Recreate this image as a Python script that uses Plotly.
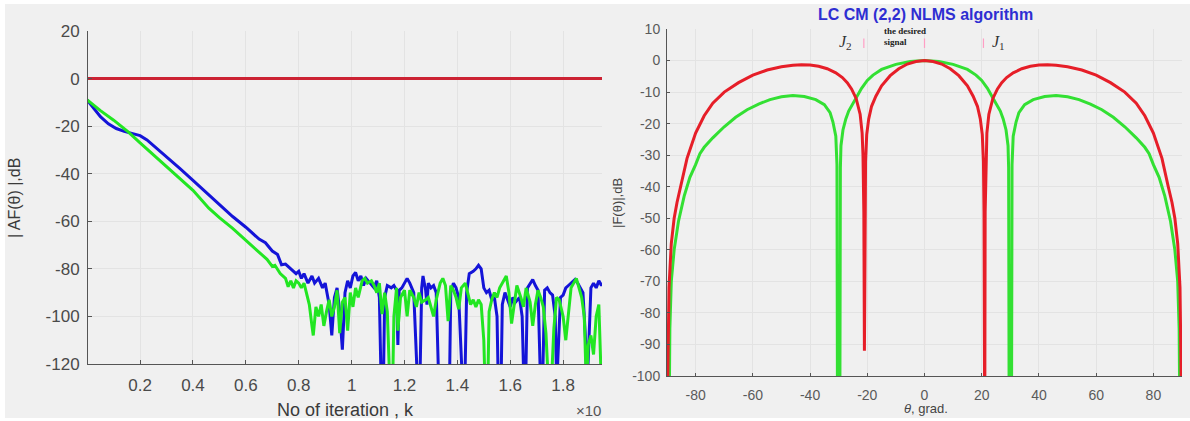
import plotly.graph_objects as go

# ---------------- Left panel data (convergence, x in units of 10^4 iterations) ----------------
red_k = [0.0, 1.95]
red_db = [0.0, 0.0]

blue_k = [0.0, 0.02, 0.05, 0.08, 0.11, 0.14, 0.17, 0.2, 0.226, 0.26, 0.3, 0.35, 0.4, 0.45, 0.5,
          0.525, 0.55, 0.6, 0.65, 0.674, 0.7, 0.72, 0.735, 0.75, 0.77, 0.79,
          0.80, 0.81, 0.82, 0.835, 0.85, 0.86, 0.875, 0.89, 0.90, 0.915, 0.925, 0.935, 0.945, 0.955,
          0.965, 0.975, 0.985, 0.995, 1.005, 1.015, 1.025, 1.035, 1.045, 1.055, 1.07, 1.085, 1.095,
          1.105, 1.112, 1.12, 1.125, 1.135, 1.15, 1.16, 1.17, 1.175, 1.18, 1.19, 1.2, 1.21, 1.22,
          1.235, 1.25, 1.258, 1.265, 1.27, 1.28, 1.285, 1.29, 1.30, 1.31, 1.32, 1.33, 1.34, 1.35,
          1.36, 1.37, 1.375, 1.385, 1.395, 1.405, 1.42, 1.428, 1.435, 1.445, 1.46, 1.47, 1.48, 1.49,
          1.50, 1.51, 1.52, 1.53, 1.54, 1.55, 1.555, 1.565, 1.57, 1.58, 1.59, 1.60, 1.61, 1.62, 1.635,
          1.645, 1.652, 1.658, 1.665, 1.675, 1.685, 1.695, 1.705, 1.715, 1.722, 1.73, 1.74, 1.75,
          1.76, 1.77, 1.776, 1.78, 1.79, 1.80, 1.81, 1.82, 1.83, 1.845, 1.855, 1.865, 1.875, 1.885,
          1.89, 1.895, 1.905, 1.915, 1.925, 1.935, 1.945, 1.95]
blue_db = [-9, -12, -16, -19, -21, -22.2, -23, -24, -25.8, -29, -33, -37.8, -42.8, -47.9, -53,
           -55.2, -58, -62.5, -67.5, -69, -72.5, -74, -78.3, -78, -80, -82,
           -81, -84, -82, -86, -83, -86, -84, -88, -86, -95, -108, -92, -88, -98,
           -114, -90, -85, -88, -83, -81.5, -85, -83, -87, -84, -86, -88, -85,
           -92, -130, -130, -92, -87, -88, -87, -89, -112, -89, -88, -86, -84, -86,
           -90, -130, -130, -88, -83, -89, -95, -86, -88, -87, -90, -130, -130, -130,
           -130, -130, -90, -86, -88, -92, -130, -130, -90, -82, -81, -80, -78.5, -80,
           -88, -90, -89, -93, -92, -100, -130, -130, -95, -90, -93, -96, -92, -94, -92,
           -100, -130, -130, -88, -86, -84.5, -87, -89, -130, -130, -89, -88, -90,
           -91, -100, -130, -118, -92, -91, -88, -87, -86, -84.5, -86, -88, -90, -110,
           -130, -118, -88, -86, -88, -85, -87, -86]

green_k = [0.0, 0.05, 0.1, 0.155, 0.2, 0.3, 0.4, 0.46, 0.5, 0.55, 0.6, 0.65, 0.68, 0.7, 0.71,
           0.73, 0.75, 0.76, 0.77, 0.78, 0.79,
           0.80, 0.81, 0.82, 0.83, 0.84, 0.85, 0.855, 0.865, 0.875, 0.885, 0.895, 0.905, 0.915,
           0.925, 0.935, 0.945, 0.955, 0.965, 0.975, 0.985, 0.995, 1.005, 1.015, 1.025, 1.04, 1.05,
           1.06, 1.075, 1.085, 1.095, 1.105, 1.115, 1.125, 1.135, 1.145, 1.155, 1.16, 1.17, 1.175,
           1.185, 1.2, 1.21, 1.22, 1.235, 1.245, 1.255, 1.265, 1.28, 1.29, 1.30, 1.31, 1.32, 1.335,
           1.345, 1.355, 1.365, 1.375, 1.385, 1.395, 1.405, 1.415, 1.43, 1.44, 1.45, 1.46, 1.47,
           1.48, 1.49, 1.50, 1.505, 1.515, 1.52, 1.53, 1.54, 1.55, 1.56, 1.575, 1.585, 1.595, 1.605,
           1.615, 1.625, 1.64, 1.65, 1.66, 1.675, 1.685, 1.695, 1.705, 1.715, 1.725, 1.735, 1.745,
           1.755, 1.765, 1.775, 1.785, 1.795, 1.80, 1.81, 1.82, 1.83, 1.84, 1.85, 1.86, 1.87, 1.88,
           1.888, 1.895, 1.905, 1.915, 1.925, 1.935, 1.945, 1.95]
green_db = [-9, -13.5, -17.5, -22.4, -27, -37, -47, -54.5, -58.5, -63, -68, -73, -76, -79, -78.5,
            -82, -84, -87.5, -85, -88, -85,
            -86, -88, -86, -90, -95, -104, -108, -96, -100, -95, -104, -98, -93,
            -100, -96, -89, -107, -94, -92, -106, -90, -96, -88, -92, -85, -84,
            -86, -85, -87, -90, -86, -99, -90, -98, -130, -130, -100, -88, -106,
            -92, -89, -100, -89, -92, -96, -90, -94, -93, -92, -96, -100, -93, -86,
            -84, -87, -102, -87, -89, -92, -97, -88, -86, -90, -95, -93, -96,
            -93, -95, -110, -130, -130, -98, -93, -90, -92, -88, -85, -83, -90, -103,
            -95, -87, -92, -96, -88, -94, -104, -95, -89, -92, -96, -107, -130,
            -130, -105, -92, -93, -97, -100, -110, -98, -88, -86, -84, -88, -92, -100,
            -130, -112, -108, -116, -100, -95, -130, -130]

left_xticks = [0.2, 0.4, 0.6, 0.8, 1.0, 1.2, 1.4, 1.6, 1.8]
left_xticktext = ["0.2", "0.4", "0.6", "0.8", "1", "1.2", "1.4", "1.6", "1.8"]
left_yticks = [20, 0, -20, -40, -60, -80, -100, -120]
left_yticktext = ["20", "0", "-20", "-40", "-60", "-80", "-100", "-120"]

# ---------------- Right panel data (array pattern vs angle) ----------------
red_theta = [-90, -89.7, -89.3, -88.5, -87.5, -86.5, -85.2, -83, -80, -77, -74, -70, -65, -60, -55,
             -50, -46, -43, -40, -37, -34, -31, -28.7, -27, -25.5, -23.9, -22.5, -21.8, -21.5,
             -21.2, -21.0, -20.8, -20.6, -20.2, -19.5, -18.5, -17, -15, -12, -9, -6, -3, 0,
             3, 6, 9, 12, 15, 17, 18.5, 19.5, 20.2, 20.6, 20.8, 20.95, 21.05, 21.2, 21.5, 21.8,
             22.5, 23.9, 25.5, 27, 28.7, 31, 34, 37, 40, 43, 46, 50, 55, 60, 65, 70, 74, 77, 80,
             83, 85.2, 86.5, 87.5, 88.5, 89.3, 89.7, 90]
red_pattern = [-120, -88, -72, -58, -50, -45, -40, -31, -23, -17.5, -13.5, -10, -7, -4.6, -3.0,
               -2.0, -1.5, -1.3, -1.4, -1.8, -2.6, -3.9, -5.4, -7, -9, -12, -17, -23, -30,
               -48, -92, -48, -32, -23.5, -18.5, -14.5, -11.3, -8, -4.8, -2.6, -1.1, -0.3, 0,
               -0.3, -1.1, -2.6, -4.8, -8, -11.3, -14.5, -18.5, -23.5, -32, -48, -120, -120, -48, -30, -23,
               -17, -12, -9, -7, -5.4, -3.9, -2.6, -1.8, -1.4, -1.3, -1.5, -2.0, -3.0, -4.6, -7, -10, -13.5, -17.5, -23,
               -31, -40, -45, -50, -58, -72, -88, -120]

green_theta = [-90, -89.3, -89, -88.5, -87.5, -86, -84, -82, -80, -78.5, -77, -74, -70, -66, -62,
               -58, -54, -50, -46, -42, -38, -35, -33, -32, -31, -30.6, -30.4, -29.6, -29.4, -29.2,
               -28.5, -27.5, -26.5, -25, -23.6, -22, -20, -18, -15, -10, -5, 0, 5, 10, 15, 18, 20,
               22, 23.6, 25, 26.5, 27.5, 28.5, 29.2, 29.4, 29.6, 30.4, 30.6, 31, 32, 33, 35, 38, 42,
               46, 50, 54, 58, 62, 66, 70, 74, 77, 78.5, 80, 82, 84, 86, 87.5, 88.5, 89, 89.3, 90]
green_pattern = [-120, -120, -85, -70, -60, -51, -43, -37, -33, -29.5, -27.5, -24.5, -21, -18, -15.6,
                 -13.8, -12.4, -11.5, -11.1, -11.4, -12.4, -14, -16.5, -19.5, -24, -33, -120, -120, -34, -27,
                 -22, -18.5, -16, -13.5, -11.4, -8.8, -6.3, -4.6, -2.8, -1.2, -0.3, 0, -0.3, -1.2, -2.8, -4.6, -6.3,
                 -8.8, -11.4, -13.5, -16, -18.5, -22, -27, -34, -120, -120, -33, -24, -19.5, -16.5, -14, -12.4, -11.4,
                 -11.1, -11.5, -12.4, -13.8, -15.6, -18, -21, -24.5, -27.5, -29.5, -33, -37, -43, -51, -60, -70, -85, -120, -120]

right_xticks = [-80, -60, -40, -20, 0, 20, 40, 60, 80]
right_xticktext = ["-80", "-60", "-40", "-20", "0", "20", "40", "60", "80"]
right_yticks = [10, 0, -10, -20, -30, -40, -50, -60, -70, -80, -90, -100]
right_yticktext = ["10", "0", "-10", "-20", "-30", "-40", "-50", "-60", "-70", "-80", "-90", "-100"]

marker_angles = [-21.2, 0, 20.6]

W, H = 1190, 421


def px(x):
    return x / W


def py(y):
    return 1 - y / H


fig = go.Figure()

# left panel
fig.add_trace(go.Scatter(x=red_k, y=red_db, mode="lines", line=dict(color="#cc2233", width=3),
                         xaxis="x", yaxis="y", showlegend=False))
fig.add_trace(go.Scatter(x=blue_k, y=blue_db, mode="lines", line=dict(color="#1414d8", width=3),
                         xaxis="x", yaxis="y", showlegend=False))
fig.add_trace(go.Scatter(x=green_k, y=green_db, mode="lines", line=dict(color="#22e622", width=3),
                         xaxis="x", yaxis="y", showlegend=False))

# right panel
fig.add_trace(go.Scatter(x=green_theta, y=green_pattern, mode="lines", line=dict(color="#33e033", width=3),
                         xaxis="x2", yaxis="y2", showlegend=False))
fig.add_trace(go.Scatter(x=red_theta, y=red_pattern, mode="lines", line=dict(color="#e61e28", width=3),
                         xaxis="x2", yaxis="y2", showlegend=False))

tickfont_l = dict(family="Liberation Sans, Arial, sans-serif", size=17, color="#4a4a4a")
tickfont_r = dict(family="Liberation Sans, Arial, sans-serif", size=14, color="#5a5a5a")
grid = "#e3e3e3"
axline = "#555555"

shapes = [
    dict(type="rect", xref="paper", yref="paper", x0=px(5), x1=px(1190), y0=py(418), y1=py(4),
         fillcolor="#f0f0f0", line=dict(width=0), layer="below"),
]
for a in marker_angles:
    shapes.append(dict(type="line", xref="x2", yref="y2", x0=a, x1=a, y0=4.0, y1=7.0,
                       line=dict(color="#ff9ec4", width=1.2)))

annotations = [
    dict(text="No of iteration , k", x=px(345), y=py(410), xref="paper", yref="paper",
         showarrow=False, font=dict(family="Liberation Sans, Arial", size=18, color="#3a3a3a"),
         xanchor="center", yanchor="middle"),
    dict(text="×10", x=px(603), y=py(410), xref="paper", yref="paper",
         showarrow=False, font=dict(family="Liberation Sans, Arial", size=15, color="#555555"),
         xanchor="right", yanchor="middle"),
    dict(text="| AF(θ) |,dB", x=px(14), y=py(198), xref="paper", yref="paper", textangle=-90,
         showarrow=False, font=dict(family="Liberation Sans, Arial", size=16, color="#3a3a3a"),
         xanchor="center", yanchor="middle"),
    dict(text="<b>LC CM (2,2) NLMS algorithm</b>", x=px(925.5), y=py(14), xref="paper", yref="paper",
         showarrow=False, font=dict(family="Liberation Sans, Arial", size=16, color="#2e2ed2"),
         xanchor="center", yanchor="middle"),
    dict(text="|F(θ)|,dB", x=px(617), y=py(203), xref="paper", yref="paper", textangle=-90,
         showarrow=False, font=dict(family="Liberation Sans, Arial", size=13, color="#444444"),
         xanchor="center", yanchor="middle"),
    dict(text="<i>θ</i>, grad.", x=px(926), y=py(408), xref="paper", yref="paper",
         showarrow=False, font=dict(family="Liberation Sans, Arial", size=13, color="#444444"),
         xanchor="center", yanchor="middle"),
    dict(text="<i>J</i><sub>2</sub>", x=-27.5, y=5.6, xref="x2", yref="y2",
         showarrow=False, font=dict(family="Liberation Serif, serif", size=16, color="#333333"),
         xanchor="center", yanchor="middle"),
    dict(text="<i>J</i><sub>1</sub>", x=26, y=5.6, xref="x2", yref="y2",
         showarrow=False, font=dict(family="Liberation Serif, serif", size=16, color="#333333"),
         xanchor="center", yanchor="middle"),
    dict(text="<b>the desired</b>", x=px(882), y=py(31), xref="paper", yref="paper",
         showarrow=False, font=dict(family="Liberation Serif, serif", size=9, color="#222222"),
         xanchor="left", yanchor="middle"),
    dict(text="<b>signal</b>", x=px(882), y=py(42), xref="paper", yref="paper",
         showarrow=False, font=dict(family="Liberation Serif, serif", size=9, color="#222222"),
         xanchor="left", yanchor="middle"),
]

common = dict(showgrid=True, gridcolor=grid, zeroline=False, showline=True, linecolor=axline,
              linewidth=1, mirror=False, ticks="inside", tickcolor=axline, automargin=False)

fig.update_layout(
    width=W, height=H,
    margin=dict(l=0, r=0, t=0, b=0, autoexpand=False),
    paper_bgcolor="white",
    plot_bgcolor="white",
    shapes=shapes,
    annotations=annotations,
    xaxis=dict(domain=[px(88), px(602)], range=[0.003, 1.947], anchor="y",
               tickvals=left_xticks, ticktext=left_xticktext, tickfont=tickfont_l,
               ticklen=4, ticklabelstandoff=6, **common),
    yaxis=dict(domain=[py(364), py(31)], range=[-120, 20], anchor="x",
               tickvals=left_yticks, ticktext=left_yticktext, tickfont=tickfont_l,
               ticklen=4, ticklabelstandoff=4, **common),
    xaxis2=dict(domain=[px(667), px(1182)], range=[-90, 90], anchor="y2",
                tickvals=right_xticks, ticktext=right_xticktext, tickfont=tickfont_r,
                ticklen=3, ticklabelstandoff=6, **common),
    yaxis2=dict(domain=[py(376), py(29)], range=[-100, 10], anchor="x2",
                tickvals=right_yticks, ticktext=right_yticktext, tickfont=tickfont_r,
                ticklen=3, ticklabelstandoff=3, **common),
)

fig.write_html("out.html")
